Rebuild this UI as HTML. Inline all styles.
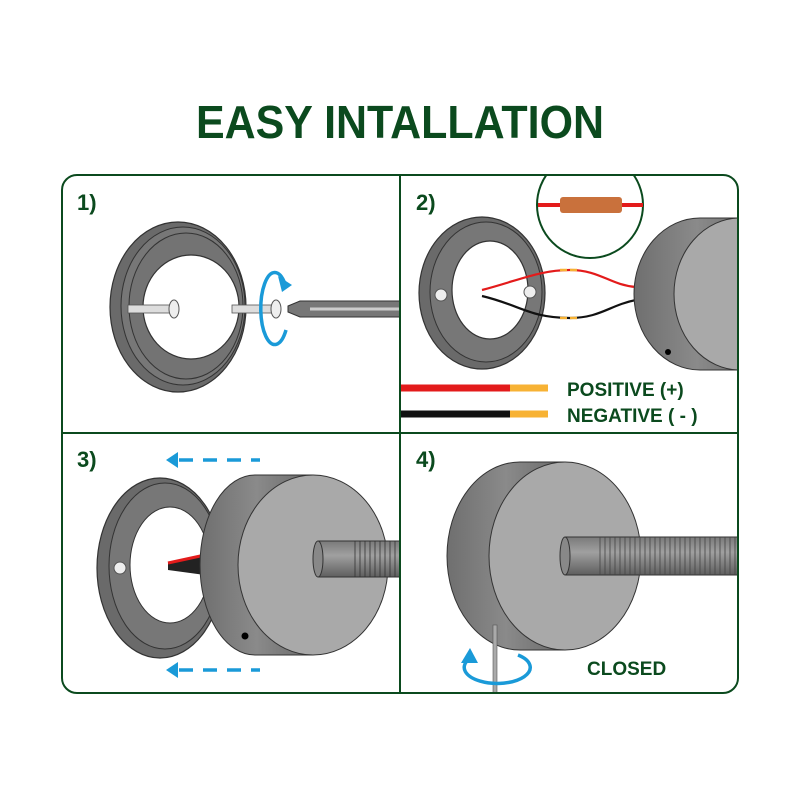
<!DOCTYPE html>
<html><head><style>html,body{margin:0;padding:0;background:#fff}svg{display:block}</style></head><body>
<svg width="800" height="800" viewBox="0 0 800 800" xmlns="http://www.w3.org/2000/svg" font-family="'Liberation Sans', sans-serif">
<defs>
<linearGradient id="side" x1="0" x2="1" y1="0" y2="0"><stop offset="0" stop-color="#6f6f6f"/><stop offset="0.5" stop-color="#8a8a8a"/><stop offset="1" stop-color="#6a6a6a"/></linearGradient>
<linearGradient id="rod" x1="0" x2="0" y1="0" y2="1"><stop offset="0" stop-color="#7a7a7a"/><stop offset="0.4" stop-color="#a0a0a0"/><stop offset="1" stop-color="#5e5e5e"/></linearGradient>
<clipPath id="c2"><rect x="400" y="175" width="338" height="258"/></clipPath>
<clipPath id="c3"><rect x="62" y="433" width="338" height="260"/></clipPath>
<clipPath id="c4"><rect x="400" y="433" width="338" height="260"/></clipPath>
<clipPath id="c1"><rect x="62" y="175" width="338" height="258"/></clipPath>
</defs>
<text x="400" y="138" text-anchor="middle" font-size="46" font-weight="bold" fill="#0b4a1e" textLength="408" lengthAdjust="spacingAndGlyphs">EASY INTALLATION</text>

<!-- Panel 1 -->
<g clip-path="url(#c1)">
<ellipse cx="178" cy="307" rx="68" ry="85" fill="#6a6a6a" stroke="#333" stroke-width="1.2"/>
<ellipse cx="183" cy="306" rx="62" ry="79" fill="#777" stroke="#333" stroke-width="1"/>
<ellipse cx="186" cy="306" rx="57" ry="73" fill="#737373" stroke="#333" stroke-width="1"/>
<ellipse cx="191" cy="307" rx="48" ry="52" fill="#fff" stroke="#333" stroke-width="1.2"/>
<rect x="128" y="305" width="44" height="8" fill="#ddd" stroke="#555" stroke-width="0.8"/>
<ellipse cx="174" cy="309" rx="5" ry="9" fill="#eee" stroke="#555"/>
<rect x="232" y="305" width="42" height="8" fill="#ddd" stroke="#555" stroke-width="0.8"/>
<ellipse cx="276" cy="309" rx="5" ry="9" fill="#eee" stroke="#555"/>
<path d="M288 306 L300 301 L400 301 L400 317 L300 317 L288 312 Z" fill="#777" stroke="#333"/>
<line x1="310" y1="309" x2="400" y2="309" stroke="#ccc" stroke-width="3"/>
<path d="M285 284 A14 36 0 1 0 286 330" fill="none" stroke="#1a9ad8" stroke-width="3.5"/>
<path d="M278 276 L292 285 L282 292 Z" fill="#1a9ad8"/>
</g>
<text x="77" y="210" font-size="22" font-weight="bold" fill="#0b4a1e">1)</text>

<!-- Panel 2 -->
<g clip-path="url(#c2)">
<ellipse cx="482" cy="293" rx="63" ry="76" fill="#6a6a6a" stroke="#333" stroke-width="1.2"/>
<ellipse cx="486" cy="292" rx="56" ry="70" fill="#777" stroke="#333"/>
<ellipse cx="490" cy="290" rx="38" ry="49" fill="#fff" stroke="#333" stroke-width="1.2"/>
<circle cx="441" cy="295" r="6" fill="#eee" stroke="#555"/>
<circle cx="530" cy="292" r="6" fill="#eee" stroke="#555"/>
<path d="M482 290 C520 280 540 270 570 270 C600 270 610 285 636 287" fill="none" stroke="#e31b1b" stroke-width="2.2"/>
<path d="M482 296 C520 305 530 318 570 318 C600 318 610 305 636 300" fill="none" stroke="#111" stroke-width="2.2"/>
<line x1="560" y1="270" x2="580" y2="270" stroke="#f7b234" stroke-width="2.5" stroke-dasharray="7,3"/>
<line x1="560" y1="318" x2="580" y2="318" stroke="#f7b234" stroke-width="2.5" stroke-dasharray="7,3"/>
<path d="M700 218 L760 218 L760 370 L700 370 A66 76 0 0 1 700 218 Z" fill="url(#side)" stroke="#333"/>
<ellipse cx="740" cy="294" rx="66" ry="76" fill="#a9a9a9" stroke="#333"/>
<circle cx="668" cy="352" r="3" fill="#000"/>
<circle cx="590" cy="205" r="53" fill="#fff" stroke="#0b4a1e" stroke-width="2"/>
<line x1="538" y1="205" x2="560" y2="205" stroke="#e31b1b" stroke-width="4"/>
<line x1="622" y1="205" x2="643" y2="205" stroke="#e31b1b" stroke-width="4"/>
<rect x="560" y="197" width="62" height="16" rx="3" fill="#c9713c"/>
</g>
<line x1="400" y1="388" x2="510" y2="388" stroke="#e31b1b" stroke-width="7"/>
<line x1="510" y1="388" x2="548" y2="388" stroke="#f7b234" stroke-width="7"/>
<line x1="400" y1="414" x2="510" y2="414" stroke="#111" stroke-width="7"/>
<line x1="510" y1="414" x2="548" y2="414" stroke="#f7b234" stroke-width="7"/>
<text x="567" y="396" font-size="19" font-weight="bold" fill="#0b4a1e">POSITIVE (+)</text>
<text x="567" y="422" font-size="19" font-weight="bold" fill="#0b4a1e">NEGATIVE ( - )</text>
<text x="416" y="210" font-size="22" font-weight="bold" fill="#0b4a1e">2)</text>

<!-- Panel 3 -->
<g clip-path="url(#c3)">
<ellipse cx="160" cy="568" rx="63" ry="90" fill="#6a6a6a" stroke="#333" stroke-width="1.2"/>
<ellipse cx="165" cy="566" rx="56" ry="83" fill="#777" stroke="#333"/>
<ellipse cx="170" cy="565" rx="40" ry="58" fill="#fff" stroke="#333"/>
<circle cx="120" cy="568" r="6" fill="#eee" stroke="#555"/>
<path d="M168 563 L205 555 L205 575 L168 570 Z" fill="#222"/>
<path d="M168 563 L205 555" stroke="#e31b1b" stroke-width="3"/>
<path d="M255 475 L313 475 L313 655 L255 655 A55 90 0 0 1 255 475 Z" fill="url(#side)" stroke="#333"/>
<ellipse cx="313" cy="565" rx="75" ry="90" fill="#a9a9a9" stroke="#333"/>
<circle cx="245" cy="636" r="3.5" fill="#000"/>
<rect x="318" y="541" width="90" height="36" fill="url(#rod)" stroke="#333"/>
<ellipse cx="318" cy="559" rx="5" ry="18" fill="#888" stroke="#333"/>
<g stroke="#333" stroke-width="0.8"><line x1="355" y1="541" x2="355" y2="577"/><line x1="360" y1="541" x2="360" y2="577"/><line x1="365" y1="541" x2="365" y2="577"/><line x1="370" y1="541" x2="370" y2="577"/><line x1="375" y1="541" x2="375" y2="577"/><line x1="380" y1="541" x2="380" y2="577"/><line x1="385" y1="541" x2="385" y2="577"/><line x1="390" y1="541" x2="390" y2="577"/><line x1="395" y1="541" x2="395" y2="577"/></g>
</g>
<g stroke="#1a9ad8" stroke-width="3.5" fill="#1a9ad8">
<line x1="175" y1="460" x2="260" y2="460" stroke-dasharray="14,10" stroke-dashoffset="-4"/>
<line x1="175" y1="670" x2="260" y2="670" stroke-dasharray="14,10" stroke-dashoffset="-4"/>
<path d="M166 460 L178 452 L178 468 Z" stroke="none"/>
<path d="M166 670 L178 662 L178 678 Z" stroke="none"/>
</g>
<text x="77" y="467" font-size="22" font-weight="bold" fill="#0b4a1e">3)</text>

<!-- Panel 4 -->
<g clip-path="url(#c4)">
<path d="M520 462 L565 462 L565 650 L520 650 A73 94 0 0 1 520 462 Z" fill="url(#side)" stroke="#333"/>
<ellipse cx="565" cy="556" rx="76" ry="94" fill="#a9a9a9" stroke="#333"/>
<rect x="565" y="537" width="180" height="38" fill="url(#rod)" stroke="#333"/>
<ellipse cx="565" cy="556" rx="5" ry="19" fill="#888" stroke="#333"/>
<g stroke="#444" stroke-width="0.8">
<line x1="600" y1="537" x2="600" y2="575"/><line x1="605" y1="537" x2="605" y2="575"/><line x1="610" y1="537" x2="610" y2="575"/><line x1="615" y1="537" x2="615" y2="575"/><line x1="620" y1="537" x2="620" y2="575"/><line x1="625" y1="537" x2="625" y2="575"/><line x1="630" y1="537" x2="630" y2="575"/><line x1="635" y1="537" x2="635" y2="575"/><line x1="640" y1="537" x2="640" y2="575"/><line x1="645" y1="537" x2="645" y2="575"/><line x1="650" y1="537" x2="650" y2="575"/><line x1="655" y1="537" x2="655" y2="575"/><line x1="660" y1="537" x2="660" y2="575"/><line x1="665" y1="537" x2="665" y2="575"/><line x1="670" y1="537" x2="670" y2="575"/><line x1="675" y1="537" x2="675" y2="575"/><line x1="680" y1="537" x2="680" y2="575"/><line x1="685" y1="537" x2="685" y2="575"/><line x1="690" y1="537" x2="690" y2="575"/><line x1="695" y1="537" x2="695" y2="575"/><line x1="700" y1="537" x2="700" y2="575"/><line x1="705" y1="537" x2="705" y2="575"/><line x1="710" y1="537" x2="710" y2="575"/><line x1="715" y1="537" x2="715" y2="575"/><line x1="720" y1="537" x2="720" y2="575"/><line x1="725" y1="537" x2="725" y2="575"/><line x1="730" y1="537" x2="730" y2="575"/><line x1="735" y1="537" x2="735" y2="575"/></g>
<rect x="493" y="625" width="4" height="70" fill="#aaa" stroke="#555" stroke-width="0.6"/>
<path d="M468 660 A33 16 0 1 0 518 655" fill="none" stroke="#1a9ad8" stroke-width="3.5"/>
<path d="M461 663 L470 648 L478 663 Z" fill="#1a9ad8"/>
</g>
<text x="587" y="675" font-size="19" font-weight="bold" fill="#0b4a1e">CLOSED</text>
<text x="416" y="467" font-size="22" font-weight="bold" fill="#0b4a1e">4)</text>

<!-- frame -->
<rect x="62" y="175" width="676" height="518" rx="15" fill="none" stroke="#0b4a1e" stroke-width="2"/>
<line x1="400" y1="175" x2="400" y2="693" stroke="#0b4a1e" stroke-width="2"/>
<line x1="62" y1="433" x2="738" y2="433" stroke="#0b4a1e" stroke-width="2"/>
</svg>
</body></html>
